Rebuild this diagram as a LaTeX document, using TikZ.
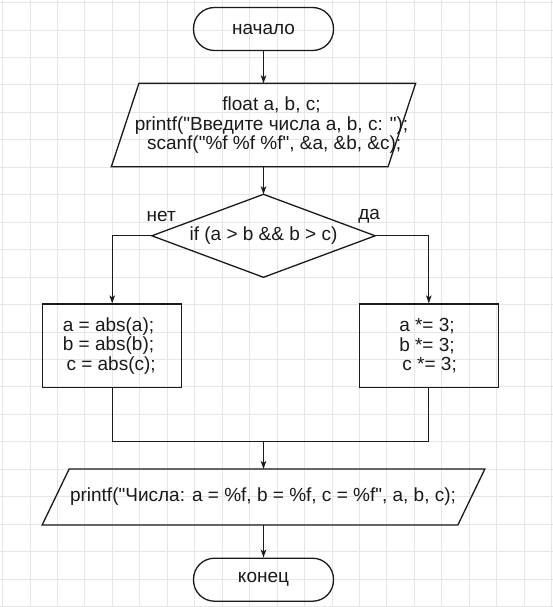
\documentclass[tikz,border=0pt]{standalone}
\usepackage{fontspec}
% a family without TeX ligature mapping, so that " stays straight
\newfontfamily\flowfont{Liberation Sans}
\usetikzlibrary{arrows.meta}
\definecolor{ink}{HTML}{1A1A1A}
\definecolor{gridgray}{HTML}{E6E6E6}
% a space kept at the start of a centred line
\newcommand{\leadsp}{\hspace*{0.278em}}
\begin{document}
\begin{tikzpicture}[x=1pt,y=-1pt,
  txt/.style={font=\flowfont\fontsize{19}{19.5}\selectfont, text=ink, align=center, inner sep=0pt},
  line/.style={draw=ink, line width=1.3pt},
  arrow/.style={line, -{Stealth[length=8pt,width=5.5pt,inset=2pt]}},
  terminal/.style={txt, line, rounded corners=21pt, minimum width=140pt, minimum height=43pt},
  process/.style={line, inner sep=0pt, minimum width=139pt, minimum height=83.3pt},
  frame/.style={inner sep=0pt, outer sep=0pt},
]
% paper and grid
\fill[white] (0,0) rectangle (553,607);
\useasboundingbox (0,0) rectangle (553,607);
\foreach \k in {0,...,20} \draw[gridgray, line width=1pt] ({2.6+27.45*\k},0) -- ++(0,607);
\foreach \k in {0,...,22} \draw[gridgray, line width=1pt] (0,{2.6+27.45*\k}) -- ++(553,0);

% start
\node[terminal] (start) at (263.5,29) {начало};

% input block (parallelogram)
\node[frame, minimum width=304.3pt, minimum height=83.4pt] (input) at (263.5,125) {};
\draw[line, line join=miter] ([xshift=27.6pt]input.north west) -- (input.north east)
  -- ([xshift=-27.6pt]input.south east) -- (input.south west) -- cycle;
\node[txt] (inputtext) at (271.5,125.5)
  {float a, b, c;\\ printf("Введите числа a, b, c: ");\\ \leadsp scanf("\%f \%f \%f", \&a, \&b, \&c);};

% condition (diamond)
\node[frame, minimum width=223.3pt, minimum height=83pt] (cond) at (263.5,235.8) {};
\draw[line, line join=miter] (cond.north) -- (cond.east) -- (cond.south) -- (cond.west) -- cycle;
\node[txt] (condtext) at (cond) {if (a > b \&\& b > c)};
\node[txt] (no) at (161.2,216.7) {нет};
\node[txt] (yes) at (369.2,216.7) {да};

% branches
\node[process] (absbox) at (112.2,345.7) {};
\node[txt] (abstext) at (108.5,345.7) {a = abs(a);\\ b = abs(b);\\ \leadsp c = abs(c);};
\node[process] (mulbox) at (428.8,345.7) {};
\node[txt] (multext) at (427,345.7) {a *= 3;\\ b *= 3;\\ \leadsp c *= 3;};

% output block (parallelogram)
\node[frame, minimum width=442.7pt, minimum height=56pt] (output) at (263.5,497) {};
\draw[line, line join=miter] ([xshift=27pt]output.north west) -- (output.north east)
  -- ([xshift=-27pt]output.south east) -- (output.south west) -- cycle;
\node[txt] (outputtext) at (263,497)
  {printf("Числа: a = \%f, b = \%f, c = \%f", a, b, c);};

% end
\node[terminal] (stop) at (263.5,579.7) {конец};

% connectors
\coordinate (merge) at (263.5,441.7);
\draw[arrow] (start.south) -- (input.north);
\draw[arrow] (input.south) -- (cond.north);
\draw[arrow] (cond.west) -| (absbox.north);
\draw[arrow] (cond.east) -| (mulbox.north);
\draw[line] (absbox.south) |- (merge) -| (mulbox.south);
\draw[arrow] (merge) -- (output.north);
\draw[arrow] (output.south) -- (stop.north);
\end{tikzpicture}
\end{document}
